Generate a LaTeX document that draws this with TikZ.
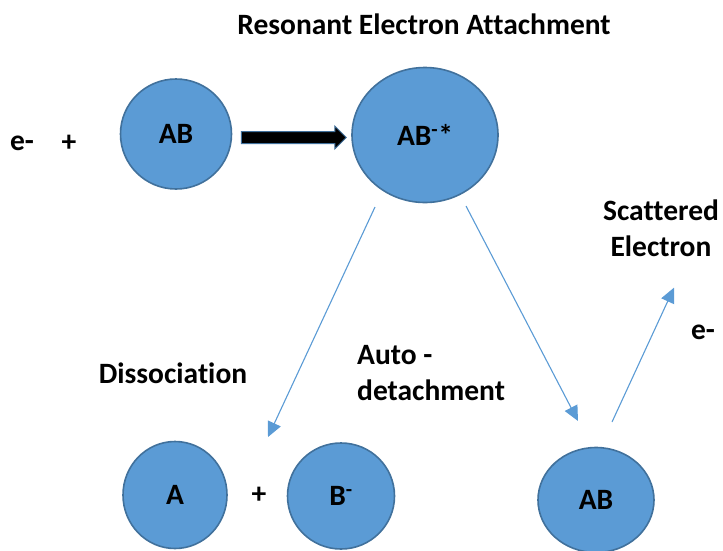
\documentclass[tikz,border=0pt]{standalone}
\usepackage{fontspec}
\setmainfont{Carlito}[Ligatures=NoCommon]
\usepackage{tikz}
\usetikzlibrary{arrows.meta,positioning,shapes.geometric,shapes.arrows,calc}
\usepackage{xcolor}
\definecolor{ballfill}{HTML}{5B9BD5}
\definecolor{balledge}{HTML}{41719C}

\begin{document}
\begin{tikzpicture}[
    x=1pt, y=-1pt,
    font=\fontsize{29.5}{36}\selectfont\bfseries,
    ball/.style={ellipse, draw=balledge, line width=1.6pt, fill=ballfill, inner sep=0pt},
    label/.style={align=center, inner sep=0pt},
    push/.style={single arrow, draw=balledge, fill=black, line width=1pt,
        inner xsep=0pt, inner ysep=5.5pt, minimum height=105pt,
        single arrow head extend=5.5pt},
    link/.style={-{Triangle[length=15pt, width=14pt]}, draw=ballfill, line width=1.1pt}
]
\useasboundingbox (0,0) rectangle (723,550);

\node[label] (title) at (424,24) {Resonant Electron Attachment};
\node[label] (ein) at (22,143) {e-};
\node[label] (plusa) at (69,143) {+};

\node[ball, minimum width=111pt, minimum height=110pt] (ab) at (176,134) {AB};
\node[ball, minimum width=146pt, minimum height=135pt] (abx) at (425,135) {AB\textsuperscript{-}*};
\node[push] (arr) at ($(ab.east)!0.5!(abx.west)+(-1,3)$) {};

\node[ball, minimum width=104pt, minimum height=107pt] (a) at (175,495) {A};
\node[label] (plusb) at (259,495) {+};
\node[ball, minimum width=107pt, minimum height=106pt] (bm) at (341,496) {B\textsuperscript{-}};
\node[ball, minimum width=116pt, minimum height=105pt] (abb) at (596,500) {AB};

\node[label] (diss) at (173,373) {Dissociation};
\node[label, align=left, anchor=west] (auto) at (357,373) {Auto -\\detachment};
\node[label] (scat) at (661,228) {Scattered\\Electron};
\node[label] (eout) at (703,332) {e-};

% free ends of the thin arrows
\coordinate (d0) at ($(abx.center)+(-50,72)$);
\coordinate (d1) at ($(plusb.center)+(9,-58)$);
\coordinate (r0) at ($(abx.center)+(41,71)$);
\coordinate (r1) at ($(abb.center)+(-18,-79)$);
\coordinate (s0) at ($(abb.center)+(16,-78)$);
\coordinate (s1) at ($(scat.south)+(13,31)$);

\draw[link] (d0) -- (d1);
\draw[link] (r0) -- (r1);
\draw[link] (s0) -- (s1);
\end{tikzpicture}
\end{document}
